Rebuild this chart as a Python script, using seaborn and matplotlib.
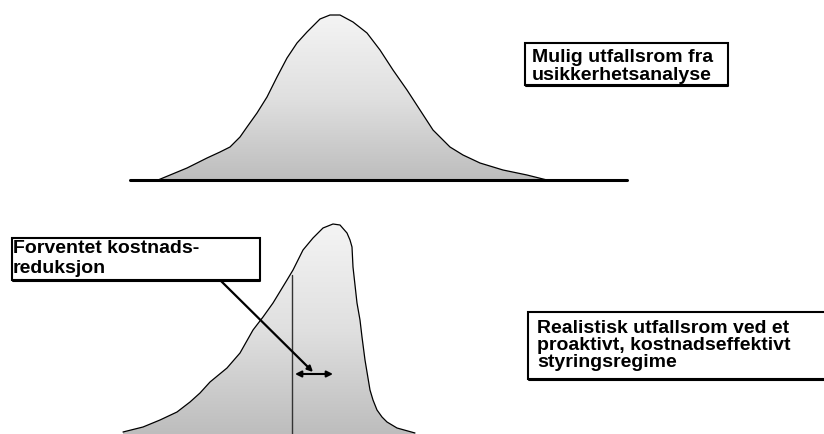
import numpy as np
import pandas as pd
import matplotlib
matplotlib.use("Agg")
import matplotlib.pyplot as plt
from matplotlib.patches import Polygon, Rectangle
import seaborn as sns

# ---- data (x position, height above baseline, in px) ----
top_x = [158, 187, 207, 220, 230, 240, 247, 257, 267, 277, 287, 297, 307, 320, 330, 340,
         353, 367, 380, 393, 407, 420, 433, 450, 463, 480, 503, 527, 547]
top_h = [0, 12, 22, 28, 33, 43, 53, 67, 83, 103, 122, 137, 148, 161, 165, 165,
         158, 147, 130, 110, 90, 70, 50, 33, 25, 17, 10, 5, 0]
bot_x = [123, 143, 160, 177, 190, 200, 210, 227, 240, 253, 263, 273, 287, 293, 303, 313,
         323, 333, 340, 347, 350, 352, 353, 355, 357, 360, 362, 365, 368, 370, 373, 377,
         382, 387, 397, 415]
bot_h = [2, 7, 14, 22, 32, 41, 52, 66, 81, 104, 117, 131, 154, 164, 184, 196,
         206, 210, 209, 201, 194, 187, 167, 149, 131, 114, 97, 74, 56, 44, 34, 24,
         17, 12, 6, 1]

label_top = "Mulig utfallsrom fra\nusikkerhetsanalyse"
label_red = "Forventet kostnads-\nreduksjon"
label_bot = "Realistisk utfallsrom ved et\nproaktivt, kostnadseffektivt\nstyringsregime"

TOP_BASE = 180
BOT_BASE = 434

sns.set_theme(style="white")
plt.rcParams['font.family'] = ['Liberation Sans', 'DejaVu Sans']

fig = plt.figure(figsize=(8.24, 4.34), dpi=100)
ax = fig.add_axes([0, 0, 1, 1])

def draw_curve(xs, hs, base):
    df = pd.DataFrame({"x": xs, "y": [base - h for h in hs]})
    poly = Polygon(list(zip(df.x, df.y)) + [(xs[-1], base + 5), (xs[0], base + 5)],
                   closed=True, facecolor="none", edgecolor="none")
    ax.add_patch(poly)
    top = df.y.min()
    grad = np.linspace(0, 1, 256).reshape(-1, 1)
    im = ax.imshow(grad, cmap=matplotlib.colors.LinearSegmentedColormap.from_list(
        "g", ["#f4f4f4", "#e0e0e0", "#bdbdbd"]),
        extent=[min(xs), max(xs), base, top], aspect="auto", zorder=1, interpolation="bilinear")
    im.set_clip_path(poly)
    sns.lineplot(data=df, x="x", y="y", ax=ax, color="black", lw=0.9, sort=False,
                 estimator=None, zorder=3)

draw_curve(top_x, top_h, TOP_BASE)
draw_curve(bot_x, bot_h, BOT_BASE)
ax.set_xlim(0, 824)
ax.set_ylim(434, 0)
ax.axis("off")

# top baseline
ax.plot([130, 627], [TOP_BASE, TOP_BASE], color="black", lw=2.2, zorder=4)

# vertical line in bottom distribution
ax.plot([292, 292], [275, 434], color="#333333", lw=1.0, zorder=4)

# double-headed arrow
ax.annotate("", xy=(333, 374), xytext=(295, 374),
            arrowprops=dict(arrowstyle="<|-|>", color="black", lw=1.5,
                            mutation_scale=9, shrinkA=0, shrinkB=0), zorder=5)

# leader line from box to arrow
ax.annotate("", xy=(313, 372), xytext=(220, 280),
            arrowprops=dict(arrowstyle="-|>", color="black", lw=1.6,
                            mutation_scale=8, shrinkA=0, shrinkB=0), zorder=5)

def box(x0, y0, x1, y1, text, tx, baselines):
    ax.add_patch(Rectangle((x0, y0), x1 - x0, y1 - y0, facecolor="white",
                           edgecolor="black", lw=1.5, zorder=6))
    ax.plot([x0 + 1, x1], [y1 + 0.5, y1 + 0.5], color="black", lw=1.5, zorder=6)
    for line, by in zip(text.split("\n"), baselines):
        ax.text(tx, by, line, fontsize=14, fontweight="bold", color="black",
                va="baseline", ha="left", zorder=7)

box(525, 43, 728, 85, label_top, 532, [62, 80])
box(12, 238, 260, 280, label_red, 13, [253, 273])
box(528, 312, 830, 379, label_bot, 537, [333, 350, 367])

fig.savefig("out.png", dpi=100)
